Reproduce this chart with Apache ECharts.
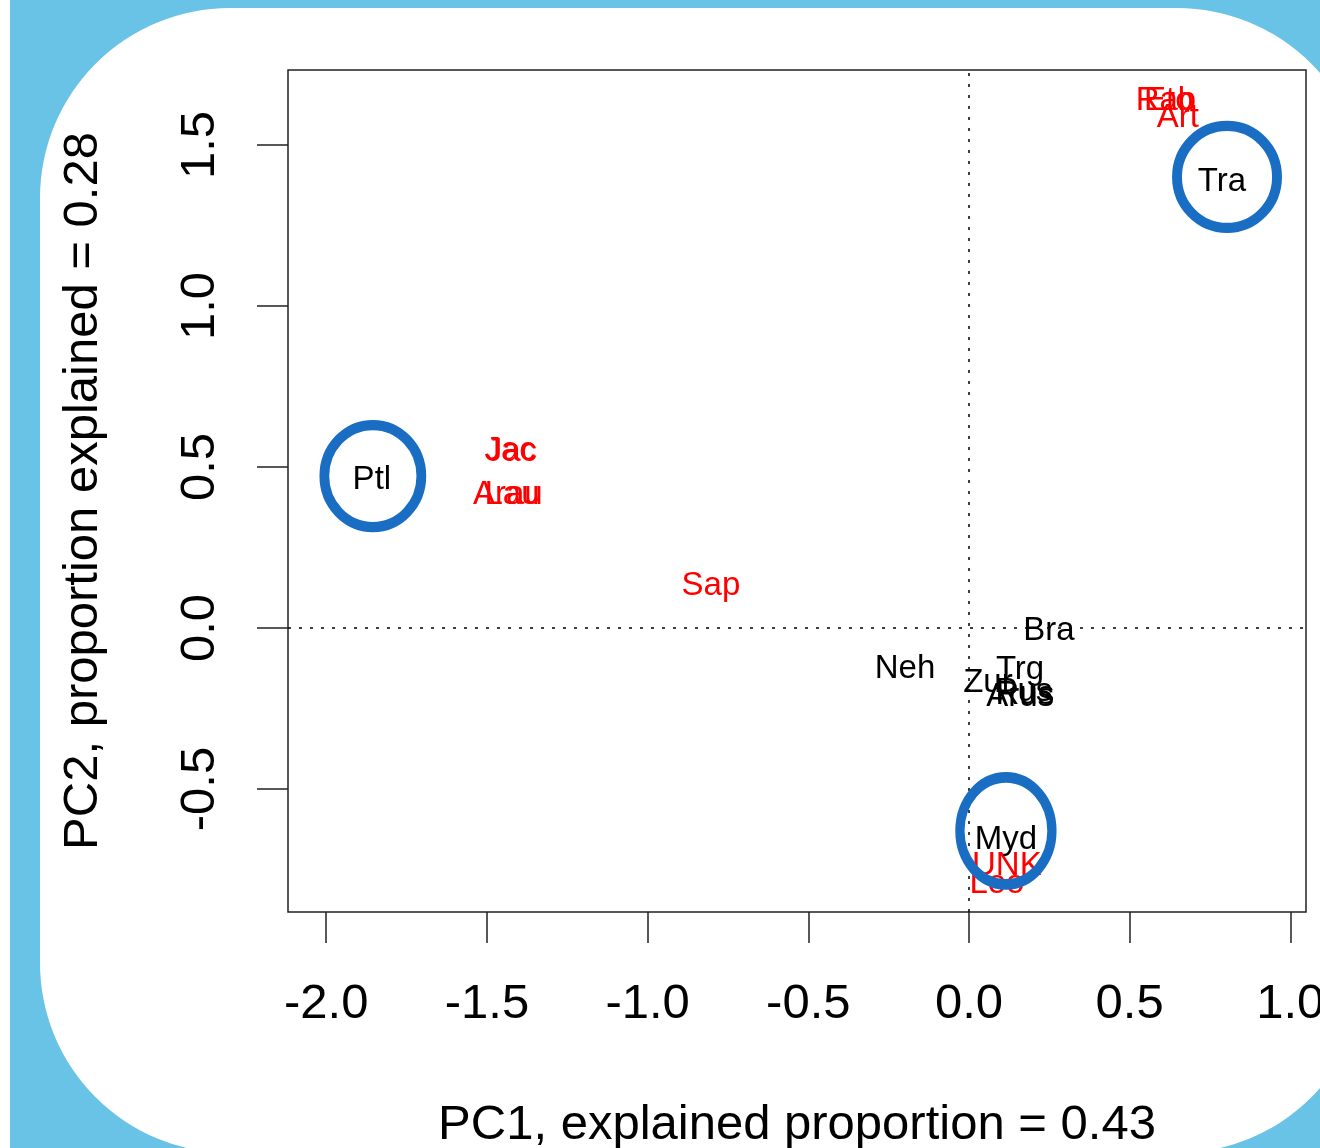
<!DOCTYPE html>
<html>
<head>
<meta charset="utf-8">
<script src="https://cdn.jsdelivr.net/npm/echarts@6/dist/echarts.min.js"></script>
<style>
  html, body { margin: 0; padding: 0; background: #ffffff; overflow: hidden; }
  #frame { position: absolute; left: 10px; top: 0; width: 1310px; height: 1148px; background: #68C3E6; overflow: hidden; }
  #card { position: absolute; left: 30px; top: 8px; width: 1327px; height: 1145px; background: #ffffff; border-radius: 190px; }
  #chart { position: absolute; left: 0; top: 0; width: 1320px; height: 1148px; }
</style>
</head>
<body>
<div id="frame"><div id="card"></div></div>
<div id="chart"></div>
<script>
// ---- data ----
const redNames = ['Rab', 'Eto', 'Art', 'Jac', 'Jac', 'Arau', 'Lau', 'Sap', 'UNK', 'Loo'];
const redPC1   = [0.613, 0.622, 0.650, -1.428, -1.424, -1.435, -1.422, -0.803, 0.118, 0.087];
const redPC2   = [1.637, 1.637, 1.584, 0.550, 0.548, 0.413, 0.413, 0.130, -0.739, -0.795];

const blackNames = ['Tra', 'Ptl', 'Neh', 'Bra', 'Zur', 'Trg', 'Pus', 'Rus', 'Arus', 'Myd'];
const blackPC1   = [0.787, -1.858, -0.199, 0.249, 0.059, 0.159, 0.171, 0.174, 0.159, 0.115];
const blackPC2   = [1.391, 0.466, -0.121, -0.003, -0.165, -0.124, -0.193, -0.202, -0.208, -0.652];

const ringPC1 = [-1.855, 0.803, 0.115];
const ringPC2 = [0.472, 1.401, -0.630];

const xTicks = [-2.0, -1.5, -1.0, -0.5, 0.0, 0.5, 1.0];
const yTicks = [-0.5, 0.0, 0.5, 1.0, 1.5];

const xTitle = 'PC1, explained proportion = 0.43';
const yTitle = 'PC2, proportion explained = 0.28';

// ---- chart ----
const FONT = '"Liberation Sans", Arial, sans-serif';
const ringSizes = [[97, 102], [100, 102], [92, 107]];

function pts(names, xs, ys) {
  return names.map((n, i) => ({ name: n, value: [xs[i], ys[i]] }));
}

const chart = echarts.init(document.getElementById('chart'), null, { renderer: 'canvas' });

const textLabel = (color) => ({
  show: true,
  position: 'inside',
  offset: [0, 2],
  formatter: '{b}',
  color: color,
  opacity: 1,
  fontFamily: FONT,
  fontSize: 33
});

chart.setOption({
  backgroundColor: 'transparent',
  animation: false,
  grid: {
    left: 288, top: 70, right: 14, bottom: 236,
    outerBoundsMode: 'none',
    containLabel: false,
    show: true, borderColor: '#222', borderWidth: 1.5, backgroundColor: 'transparent'
  },
  xAxis: {
    type: 'value',
    min: -2.119, max: 1.0488,
    splitLine: { show: false },
    axisLine: { show: false, onZero: false },
    axisTick: { show: true, customValues: xTicks, length: 31, lineStyle: { color: '#222', width: 1.5 } },
    axisLabel: {
      customValues: xTicks,
      formatter: (v) => v.toFixed(1),
      fontFamily: FONT, fontSize: 49, color: '#000', margin: 68,
      hideOverlap: false
    },
    name: xTitle,
    nameLocation: 'middle',
    nameGap: 189,
    nameTextStyle: { fontFamily: FONT, fontSize: 49, color: '#000' }
  },
  yAxis: {
    type: 'value',
    min: -0.882, max: 1.733,
    splitLine: { show: false },
    axisLine: { show: false, onZero: false },
    axisTick: { show: true, customValues: yTicks, length: 31, lineStyle: { color: '#222', width: 1.5 } },
    axisLabel: {
      customValues: yTicks,
      formatter: (v) => v.toFixed(1),
      rotate: 90,
      fontFamily: FONT, fontSize: 49, color: '#000', margin: 63
    },
    name: yTitle,
    nameLocation: 'middle',
    nameGap: 180,
    nameRotate: 90,
    nameTextStyle: { fontFamily: FONT, fontSize: 49, color: '#000' }
  },
  series: [
    {
      type: 'scatter',
      data: pts(redNames, redPC1, redPC2),
      symbolSize: 0,
      itemStyle: { color: 'transparent', opacity: 1 },
      label: textLabel('#FF0000'),
      labelLayout: { hideOverlap: false },
      silent: true,
      z: 3,
      markLine: {
        silent: true,
        symbol: 'none',
        label: { show: false },
        lineStyle: { color: '#000', type: [3, 8], width: 1.5, opacity: 1 },
        data: [{ xAxis: 0 }, { yAxis: 0 }]
      }
    },
    {
      type: 'scatter',
      data: pts(blackNames, blackPC1, blackPC2),
      symbolSize: 0,
      itemStyle: { color: 'transparent', opacity: 1 },
      label: textLabel('#000000'),
      silent: true,
      z: 4
    },
    {
      type: 'scatter',
      data: ringPC1.map((x, i) => ({ value: [x, ringPC2[i]], symbolSize: ringSizes[i] })),
      symbol: 'circle',
      itemStyle: { color: 'transparent', borderColor: '#196EC3', borderWidth: 10, opacity: 1 },
      silent: true,
      z: 5
    }
  ]
});
</script>
</body>
</html>
